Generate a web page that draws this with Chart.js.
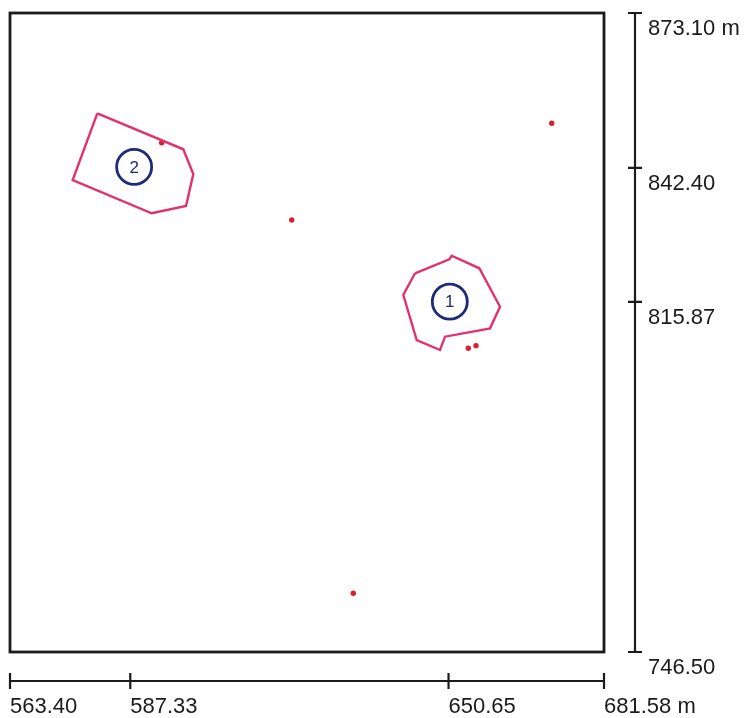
<!DOCTYPE html>
<html>
<head>
<meta charset="utf-8">
<script src="https://cdn.jsdelivr.net/npm/chart.js@4.4.1/dist/chart.umd.min.js"></script>
<style>
  html, body { margin: 0; padding: 0; background: #ffffff; }
  #wrap { width: 747px; height: 718px; }
</style>
</head>
<body>
<div id="wrap"><canvas id="map" width="747" height="718"></canvas></div>
<script>
// Site plan coordinates in metres (easting = x, northing = y)
const xTickValues = [563.40, 587.33, 650.65, 681.58];
const yTickValues = [873.10, 842.40, 815.87, 746.50];
const xTickLabels = ['563.40', '587.33', '650.65', '681.58 m'];
const yTickLabels = ['873.10 m', '842.40', '815.87', '746.50'];

// Zone 1 outline
const zone1X = [643.98, 650.80, 651.28, 656.77, 660.89, 658.90, 649.95, 648.95, 644.32, 641.65, 643.98];
const zone1Y = [821.53, 824.30, 825.02, 822.52, 814.91, 810.63, 808.97, 806.33, 808.31, 817.23, 821.53];

// Zone 2 outline
const zone2X = [580.77, 597.88, 599.87, 598.42, 591.59, 575.87, 580.77];
const zone2Y = [853.23, 846.10, 841.20, 834.86, 833.42, 840.01, 853.23];

// Individual sampling points
const pointX = [671.18, 619.45, 631.70, 654.58, 656.12, 593.58];
const pointY = [851.25, 832.09, 758.13, 806.67, 807.19, 847.40];

// Numbered zone markers
const markerLabels = ['1', '2'];
const markerX = [650.9, 588.1];
const markerY = [815.9, 842.6];

const zip = (xs, ys) => xs.map((x, i) => ({ x: x, y: ys[i] }));

const PINK = '#e4316d';
const NAVY = '#1c2c78';
const INK = '#1b1b1b';
const FONT = '"Liberation Sans", Arial, sans-serif';

// Frame around the plotting area
const framePlugin = {
  id: 'frame',
  beforeDatasetsDraw(chart) {
    const a = chart.chartArea, ctx = chart.ctx;
    ctx.save();
    ctx.strokeStyle = INK;
    ctx.lineWidth = 2.8;
    ctx.strokeRect(a.left, a.top, a.right - a.left, a.bottom - a.top);
    ctx.restore();
  }
};

// Text inside the numbered markers
const markerTextPlugin = {
  id: 'markerText',
  afterDatasetsDraw(chart) {
    const meta = chart.getDatasetMeta(3);
    const ctx = chart.ctx;
    ctx.save();
    ctx.fillStyle = NAVY;
    ctx.font = '17px ' + FONT;
    ctx.textAlign = 'center';
    ctx.textBaseline = 'middle';
    meta.data.forEach((el, i) => ctx.fillText(markerLabels[i], el.x, el.y + 1));
    ctx.restore();
  }
};

// Scale bars drawn beside the frame, bottom and right
const scaleBarPlugin = {
  id: 'scaleBars',
  afterDraw(chart) {
    const xs = chart.scales.x, ys = chart.scales.y, a = chart.chartArea;
    const ctx = chart.ctx;
    const barY = a.bottom + 29;
    const barX = a.right + 31;
    ctx.save();
    ctx.strokeStyle = INK;
    ctx.fillStyle = INK;
    ctx.lineWidth = 2.2;
    ctx.font = '22px ' + FONT;

    // horizontal bar
    const x0 = xs.getPixelForValue(xTickValues[0]);
    const x1 = xs.getPixelForValue(xTickValues[xTickValues.length - 1]);
    ctx.beginPath();
    ctx.moveTo(x0, barY); ctx.lineTo(x1, barY);
    xTickValues.forEach(v => {
      const px = xs.getPixelForValue(v);
      ctx.moveTo(px, barY - 8); ctx.lineTo(px, barY + 8);
    });
    ctx.stroke();
    ctx.textAlign = 'left';
    ctx.textBaseline = 'alphabetic';
    xTickValues.forEach((v, i) => {
      ctx.fillText(xTickLabels[i], xs.getPixelForValue(v), barY + 32);
    });

    // vertical bar
    const y0 = ys.getPixelForValue(yTickValues[0]);
    const y1 = ys.getPixelForValue(yTickValues[yTickValues.length - 1]);
    ctx.beginPath();
    ctx.moveTo(barX, y0); ctx.lineTo(barX, y1);
    yTickValues.forEach(v => {
      const py = ys.getPixelForValue(v);
      ctx.moveTo(barX - 7, py); ctx.lineTo(barX + 7, py);
    });
    ctx.stroke();
    yTickValues.forEach((v, i) => {
      ctx.fillText(yTickLabels[i], barX + 13, ys.getPixelForValue(v) + 22);
    });
    ctx.restore();
  }
};

new Chart(document.getElementById('map'), {
  type: 'scatter',
  data: {
    datasets: [
      {
        label: 'Zone 1',
        data: zip(zone1X, zone1Y),
        showLine: true,
        borderColor: PINK,
        borderWidth: 2.4,
        pointRadius: 0,
        fill: false,
        tension: 0
      },
      {
        label: 'Zone 2',
        data: zip(zone2X, zone2Y),
        showLine: true,
        borderColor: PINK,
        borderWidth: 2.4,
        pointRadius: 0,
        fill: false,
        tension: 0
      },
      {
        label: 'Points',
        data: zip(pointX, pointY),
        pointRadius: 2.7,
        pointBackgroundColor: '#d8202c',
        pointBorderWidth: 0,
        borderColor: '#d8202c'
      },
      {
        label: 'Markers',
        data: zip(markerX, markerY),
        pointRadius: 17.5,
        pointStyle: 'circle',
        pointBackgroundColor: 'rgba(255,255,255,0)',
        pointBorderColor: NAVY,
        pointBorderWidth: 2.8
      }
    ]
  },
  options: {
    responsive: false,
    maintainAspectRatio: false,
    animation: false,
    layout: { autoPadding: false, padding: { left: 10, top: 13, right: 143, bottom: 66 } },
    scales: {
      x: { type: 'linear', min: 563.40, max: 681.58, display: false },
      y: { type: 'linear', min: 746.50, max: 873.10, display: false }
    },
    plugins: {
      legend: { display: false },
      tooltip: { enabled: false }
    }
  },
  plugins: [framePlugin, markerTextPlugin, scaleBarPlugin]
});
</script>
</body>
</html>
